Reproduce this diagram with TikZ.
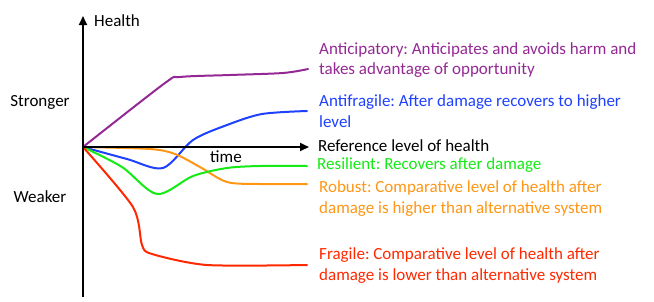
\documentclass[tikz,border=0pt]{standalone}
\usepackage{fontspec}
\setmainfont{Carlito}
\frenchspacing
\usetikzlibrary{arrows.meta}
\definecolor{cpurple}{RGB}{148,40,148}
\definecolor{cblue}{RGB}{30,64,255}
\definecolor{cgreen}{RGB}{20,235,20}
\definecolor{corange}{RGB}{255,150,20}
\definecolor{cred}{RGB}{255,40,0}
\tikzset{
  axis/.style={line width=2pt, -{Triangle[length=9pt,width=8pt]}},
  curve/.style={line width=2pt, line join=round, line cap=round},
  lbl/.style={anchor=west, inner sep=0pt, align=left, font=\fontsize{17}{20.7}\selectfont},
  side/.style={inner sep=0pt, font=\fontsize{17}{20}\selectfont}
}
\begin{document}
\begin{tikzpicture}[x=1pt,y=-1pt]
\useasboundingbox (0,0) rectangle (654,301);
\coordinate (o) at (83,147);
\coordinate (ybot) at (83,297);
\coordinate (ytop) at (83,16);
\coordinate (xend) at (309,147);
% curves
\draw[curve,cpurple] plot[smooth,tension=0.5] coordinates {(83,147) (165,83) (180,77) (230,75) (283,73) (308,69)};
\draw[curve,cblue] plot[smooth,tension=0.5] coordinates {(83,147) (127,159) (163,168) (193,140) (227,125) (262,114) (307,111)};
\draw[curve,corange] plot[smooth,tension=0.5] coordinates {(83,147) (150,149) (175,154) (200,167) (227,182) (260,184) (307,184)};
\draw[curve,cgreen] plot[smooth,tension=0.5] coordinates {(83,147) (122,167) (157,194) (193,176) (227,168) (260,166) (307,166)};
\draw[curve,cred] plot[smooth,tension=0.45] coordinates {(83,147) (133,207) (142,245) (152,254) (207,265) (307,265)};
% axes
\draw[axis] (ybot) -- (ytop);
\draw[axis] (o) -- (xend);
% texts
\node[side, anchor=west] (health) at (94,21) {Health};
\node[side] (time) at (226,157) {time};
\node[side] (stronger) at (40,102) {Stronger};
\node[side] (weaker) at (40,197) {Weaker};
\node[lbl, text=cpurple] (ant) at (319,60) {Anticipatory: Anticipates and avoids harm and\\takes advantage of opportunity};
\node[lbl, text=cblue] (afr) at (319,111.5) {Antifragile: After damage recovers to higher\\level};
\node[lbl] (ref) at (318,146) {Reference level of health};
\node[lbl, text=cgreen] (res) at (317,165.5) {Resilient: Recovers after damage};
\node[lbl, text=corange] (rob) at (319,198.5) {Robust: Comparative level of health after\\damage is higher than alternative system};
\node[lbl, text=cred] (fra) at (319,265.5) {Fragile: Comparative level of health after\\damage is lower than alternative system};
\end{tikzpicture}
\end{document}
